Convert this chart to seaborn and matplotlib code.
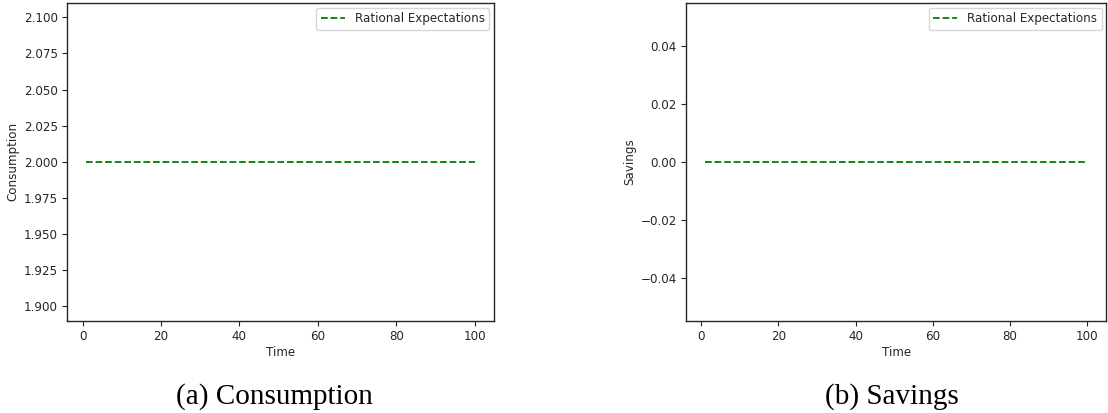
import numpy as np
import pandas as pd
import seaborn as sns
import matplotlib
matplotlib.use("Agg")
import matplotlib.pyplot as plt

time = list(range(1, 101))
consumption = [2.0] * 100
savings = [0.0] * 100
series_label = "Rational Expectations"
captions = ["(a) Consumption", "(b) Savings"]
ylabels = ["Consumption", "Savings"]
caption_x = [274 / 1108, 892 / 1108]

sns.set_style("ticks")
plt.rcParams['font.family'] = ['DejaVu Sans']
FS = 8.6
plt.rcParams['font.size'] = FS

fig = plt.figure(figsize=(11.08, 4.13), dpi=100)
ax1 = fig.add_axes([0.0605, 0.223, 0.3855, 0.770])
ax2 = fig.add_axes([0.619, 0.223, 0.3795, 0.770])

for ax, vals, yl, cap, cx in zip([ax1, ax2], [consumption, savings], ylabels, captions, caption_x):
    df = pd.DataFrame({"Time": time, "value": vals})
    sns.lineplot(data=df, x="Time", y="value", ax=ax, color="green",
                 linestyle="--", linewidth=1.3, label=series_label)
    ax.set_xlabel("Time", fontsize=FS, labelpad=2)
    ax.set_ylabel(yl, fontsize=FS, labelpad=3)
    ax.tick_params(labelsize=FS, length=3.5, color=".15", pad=3)
    for s in ax.spines.values():
        s.set_visible(True)
        s.set_linewidth(1.0)
        s.set_color(".15")
    ax.set_xticks([0, 20, 40, 60, 80, 100])
    leg = ax.legend(loc="upper right", fontsize=FS, handlelength=2.0,
                    borderaxespad=0.4)
    fig.text(cx, 9 / 413, cap, ha="center", va="baseline",
             fontsize=21, family="Liberation Serif", color="black")

ax1.set_yticks([1.9, 1.925, 1.95, 1.975, 2.0, 2.025, 2.05, 2.075, 2.1])
ax1.set_yticklabels([f"{v:.3f}" for v in ax1.get_yticks()])

fig.savefig("out.png", dpi=100)
